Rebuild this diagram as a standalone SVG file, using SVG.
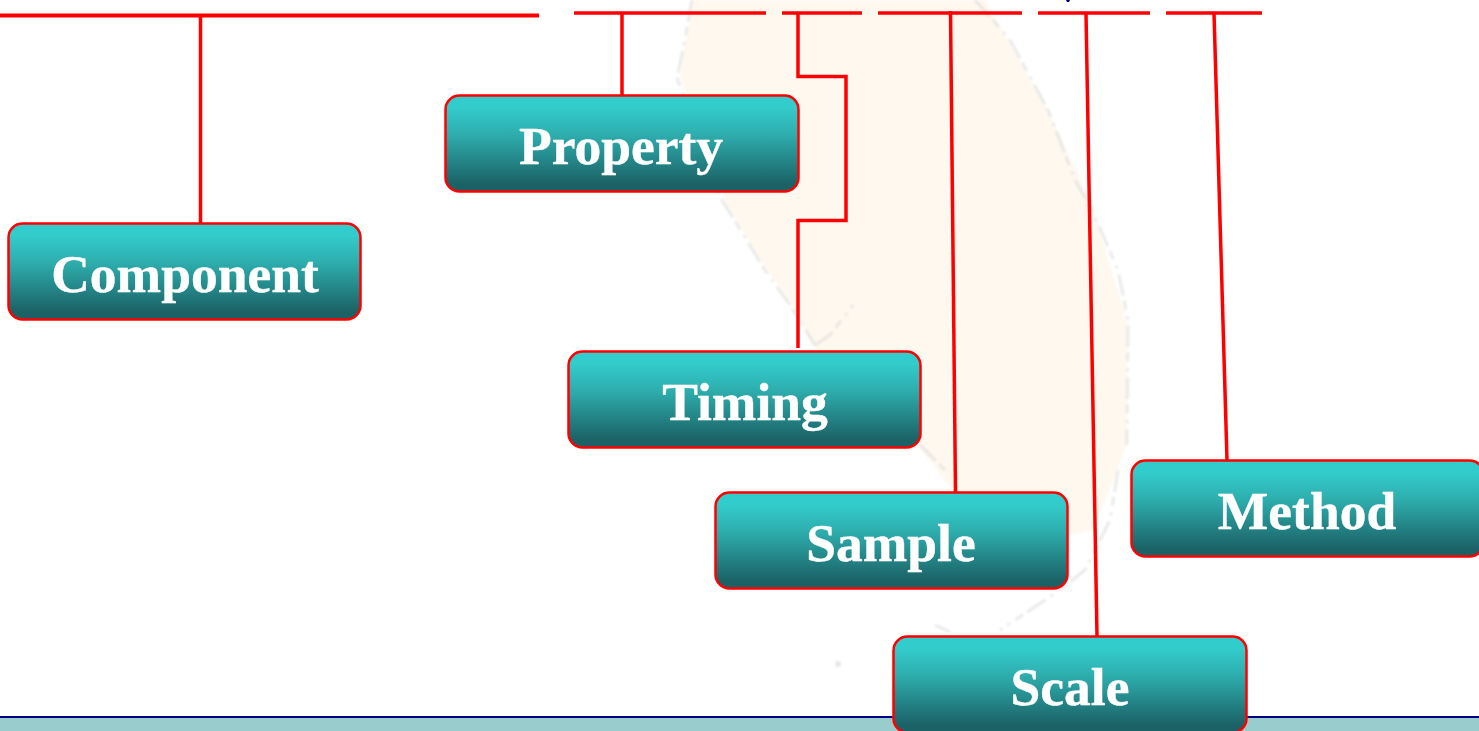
<svg xmlns="http://www.w3.org/2000/svg" width="1479" height="731" viewBox="0 0 1479 731">
<style>
.box{fill:url(#boxFill);stroke:#f00;stroke-width:2.500}
.label{font-family:"Liberation Serif","Times New Roman",serif;font-size:53.500px;font-weight:bold;fill:#fff;stroke:#fff;stroke-width:.4;text-anchor:middle}
.wire{fill:none;stroke:#f00;stroke-width:3.500}
.coast{fill:none;stroke:#dcdcda;stroke-width:3;stroke-dasharray:22 5 9 7 3 6;opacity:.6;filter:url(#soft)}
</style>
<defs>
<linearGradient id="boxFill" x1="0" y1="0" x2="0" y2="1">
<stop offset="0.12" stop-color="#33cccc"/>
<stop offset="0.4" stop-color="#2eaeae"/>
<stop offset="0.92" stop-color="#1b6266"/>
</linearGradient>
<filter id="soft" x="-10%" y="-10%" width="120%" height="120%"><feGaussianBlur stdDeviation="1.300"/></filter>
</defs>
<rect width="1479" height="731" fill="#fff"/>
<g id="map">
<path d="M694 0L684 50L680 78L702 130L727 205L764 265L792 305L812 345L920 448L952 490L1068 535L1094 530L1127 445L1127 320L1090 200L1048 110L1008 40L985 0Z" fill="#fef8ef" filter="url(#soft)"/>
<path class="coast" d="M692 0L684 45L677 78L700 140L722 200L765 270L790 305L815 345"/>
<path class="coast" d="M975 0L1010 40L1048 110L1075 180L1092 210L1118 270L1128 320L1127 445"/>
<path class="coast" d="M815 345L830 335L853 305M920 445L945 470M1118 470L1110 520L1085 570L1060 590L1000 630M935 625L950 632"/>
<circle cx="838" cy="664" r="3" fill="#e8e8e6" filter="url(#soft)"/>
</g>
<g id="footer">
<rect x="0" y="717" width="1479" height="14" fill="#99cccc"/>
<rect x="0" y="716" width="1479" height="2" fill="#000080"/>
</g>
<path d="M1066 0h4l-1 2h-2z" fill="#000080"/>
<g id="connectors">
<path class="wire" style="stroke-width:4" d="M0 15.500H539"/>
<path class="wire" d="M574 13H766M782 13H862M878 13H1022M1038 13H1150M1166 13H1262"/>
<path class="wire" d="M200.500 16V223"/>
<path class="wire" d="M622 13V95"/>
<path class="wire" d="M798 13V76.500H846V220.500H798V348"/>
<path class="wire" d="M950.500 11L955.500 492"/>
<path class="wire" d="M1086 13L1097 636"/>
<path class="wire" d="M1214 13L1227 460"/>
</g>
<g id="component"><rect class="box" x="8.500" y="223.500" width="352" height="96" rx="14"/><text class="label" x="185" y="292">Component</text></g>
<g id="property"><rect class="box" x="445.500" y="95.500" width="353" height="96" rx="14"/><text class="label" x="621" y="164">Property</text></g>
<g id="timing"><rect class="box" x="568.500" y="351.500" width="352" height="96" rx="14"/><text class="label" x="745" y="420">Timing</text></g>
<g id="sample"><rect class="box" x="715.500" y="492.500" width="352" height="96" rx="14"/><text class="label" x="891" y="561">Sample</text></g>
<g id="scale"><rect class="box" x="893.500" y="636.500" width="353" height="96" rx="14"/><text class="label" x="1070" y="705">Scale</text></g>
<g id="method"><rect class="box" x="1131.500" y="460.500" width="352" height="96" rx="14"/><text class="label" x="1307" y="529">Method</text></g>
</svg>
